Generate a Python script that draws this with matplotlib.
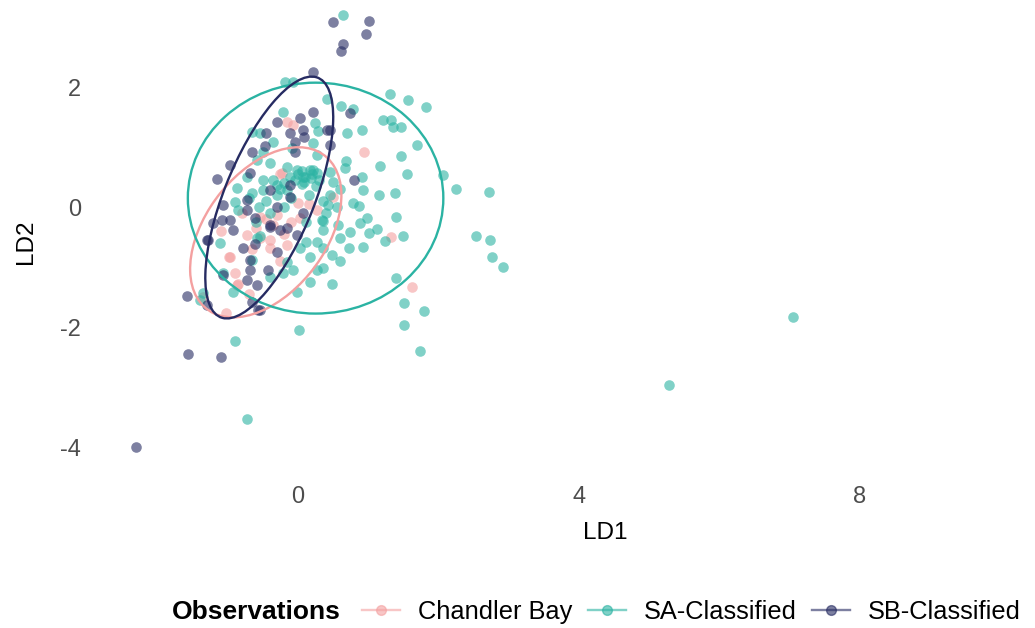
import matplotlib.pyplot as plt
from matplotlib.patches import Ellipse
from matplotlib.lines import Line2D

plt.rcParams['font.family'] = ['Liberation Sans', 'DejaVu Sans']
plt.rcParams['axes.unicode_minus'] = False

groups = ['Chandler Bay', 'SA-Classified', 'SB-Classified']
colors = {'Chandler Bay': '#F4A0A0', 'SA-Classified': '#2BB3A3', 'SB-Classified': '#262B62'}

# LD1 / LD2 scores
cb_x = [0.94, 1.32, 1.62, -0.07, -0.26, -0.16, -0.80, -0.73, -0.54, -0.40, -0.97, -0.30,
        -0.16, -0.90, -0.85, -1.35, -1.02, -0.54, 0.03, -0.40, 0.00, 0.50, 0.27, -0.23,
        -0.98, -0.87, -0.35, -0.20, -0.60, -0.10, 0.15, -0.45, -0.65, -0.25, -1.10, -0.70]
cb_y = [0.92, -0.49, -1.33, 1.37, 0.55, 1.42, -0.10, -0.47, -0.52, -0.55, -0.83, -0.13,
        -0.63, -1.10, -1.28, -1.50, -1.77, -0.16, -0.18, -0.68, 0.07, 0.17, -0.05, 0.57,
        -0.83, -1.30, -0.30, -0.45, -0.35, -0.25, 0.05, -0.20, -0.70, -0.90, -0.40, -1.45]

sa_x = [0.64, 7.05, 5.28, -0.73, -0.90, 0.01, 1.74, 2.07, 2.25, 2.72, 2.54, 2.74, 2.77, 2.92,
        1.31, 1.57, 1.82, 1.21, 1.33, 1.35, 1.47, 1.70, 1.46, 1.17, 1.55, 0.91, 0.70, 0.61,
        0.41, 0.78, 0.91, 0.93, 1.15, 1.38, 0.69, 0.67, 0.46, 0.50,
        1.40, 1.49, 1.24, 1.12, 0.98, 0.88, 1.01, 0.93, 0.74, 0.73, 0.60, 0.57, 0.48, 0.60,
        0.36, 0.35, 0.48, 1.40, 1.51, 1.79, 1.51, 0.87, 0.78, 0.43,
        -0.19, -0.07, -0.21, 0.24, 0.28, -0.66, -0.54, -0.36, 0.21, -0.09, -0.50, 0.27, -0.40,
        -0.16, -0.02, 0.17, 0.07, 0.27, -0.59, -0.73, -0.87, -0.50, -0.30, -0.16, -0.50, -0.66,
        -1.11, -0.66, -0.54, -0.90, -0.16, -0.07, 0.12, 0.27, 0.03, 0.17, 0.36, 0.27, -0.02,
        0.17, -1.07, -1.35, -0.93, -0.40, -0.21, 0.36, 0.34, 0.12, -0.59,
        0.00, 0.10, 0.20, 0.30, 0.05, 0.25, -0.20, -0.30, -0.45, -0.55, -0.40, -0.20, -0.10,
        0.15, 0.35, 0.45, 0.60, 0.55, 0.40, -0.70, -0.85, -0.60, -1.40,
        -0.05, 0.08, 0.18, -0.25, -0.35, 0.05, 0.22, -0.12]
sa_y = [3.20, -1.83, -2.97, -3.53, -2.23, -2.05, -2.40, 0.53, 0.30, 0.25, -0.48, -0.55, -0.83, -1.00,
        1.88, 1.79, 1.67, 1.45, 1.45, 1.34, 1.33, 1.03, 0.86, 0.68, 0.55, 1.28, 1.23, 1.68,
        1.80, 1.63, 0.51, 0.28, 0.20, 0.23, 0.77, 0.65, 0.59, 0.42,
        -0.16, -0.48, -0.57, -0.37, -0.18, -0.27, -0.43, -0.66, -0.42, -0.68, -0.52, -0.30, -0.80, -0.90,
        -0.23, -1.02, -1.28, -1.18, -1.60, -1.73, -1.97, 0.02, 0.07, 0.03,
        2.09, 2.08, 1.59, 1.40, 1.27, 1.26, 1.24, 1.09, 1.07, 0.98, 0.92, 0.87, 0.73,
        0.67, 0.62, 0.62, 0.51, 0.57, 0.78, 0.51, 0.32, 0.45, 0.37, 0.28, 0.28, 0.23,
        -0.60, -0.88, -0.48, 0.09, -0.91, -1.05, -0.58, -0.58, -0.68, -0.83, -0.68, -1.05, -1.41,
        -1.25, -1.10, -1.43, -1.41, -1.16, -1.10, -0.38, -0.22, -0.24, -0.52,
        0.55, 0.50, 0.55, 0.45, 0.38, 0.35, 0.40, 0.20, 0.10, 0.00, -0.10, 0.00, 0.15,
        0.20, 0.10, 0.20, 0.30, 0.00, -0.10, 0.15, -0.05, -0.25, -1.55,
        0.45, 0.42, 0.48, 0.30, 0.45, 0.60, 0.62, 0.50]

sb_x = [-2.31, -1.57, -1.10, -1.58, 0.50, 1.01, 0.64, 0.61, 0.97, 0.21,
        0.74, 0.46, 0.46, 0.80,
        0.21, 0.03, -0.30, 0.07, -0.11, 0.09, -0.04, 0.41, -0.45, -0.66, -0.97, -1.16, -0.47,
        -0.04, -0.11, -0.68,
        -1.07, -1.21, -0.97, -0.93, -1.30, -0.78, -0.61, -0.40, -0.26, -0.61, -0.73, -0.30,
        -0.68, -1.07, -0.73, -0.59, -0.43, -1.30, -0.66, -0.57, -0.16, -0.02,
        -1.28, -0.68, -0.40, -0.30, -0.54, 0.07, -0.11, -0.40, -0.73, -1.09]
sb_y = [-4.00, -2.45, -2.50, -1.48, 3.08, 3.10, 2.72, 2.60, 2.88, 2.25,
        1.57, 1.28, 1.03, 0.45,
        1.59, 1.48, 1.42, 1.28, 1.23, 1.17, 1.09, 1.28, 1.23, 0.92, 0.70, 0.47, 1.02,
        0.92, 0.37, 0.57,
        0.03, -0.27, -0.22, -0.38, -0.55, -0.68, -0.62, -0.33, -0.38, -0.18, -0.05, -0.75,
        -0.88, -1.13, -1.22, -1.30, -1.05, -1.63, -1.58, -1.72, -0.35, -0.47,
        -0.55, -1.05, -0.30, 0.00, -1.72, -0.10, 0.17, 0.28, 0.12, -0.22]

# 95% ellipse of each group: centre, full width/height along its axes, tilt (deg)
ell_cx = [-0.46, 0.25, -0.41]
ell_cy = [-0.42, 0.15, 0.16]
ell_w = [3.08, 3.64, 4.23]
ell_h = [1.79, 3.85, 1.30]
ell_ang = [61.4, 0.0, 71.5]

fig = plt.figure(figsize=(10.35, 6.28), dpi=100)
ax = fig.add_axes([98 / 1035, 1 - 480 / 628, 930 / 1035, 475 / 628])

pts = {'Chandler Bay': (cb_x, cb_y), 'SA-Classified': (sa_x, sa_y), 'SB-Classified': (sb_x, sb_y)}
for g in groups:
    x, y = pts[g]
    ax.scatter(x, y, s=58, color=colors[g], alpha=0.6, linewidths=0, zorder=2)

for i, g in enumerate(groups):
    e = Ellipse((ell_cx[i], ell_cy[i]), ell_w[i], ell_h[i], angle=ell_ang[i],
                fill=False, edgecolor=colors[g], lw=1.7, zorder=3)
    ax.add_patch(e)

ax.set_xlim(-2.85, 10.4)
ax.set_ylim(-4.55, 3.37)
ax.set_xticks([0, 4, 8])
ax.set_yticks([-4, -2, 0, 2])
ax.tick_params(length=0, labelsize=17, labelcolor='#4D4D4D')
ax.tick_params(axis='y', pad=12)
ax.tick_params(axis='x', pad=4)
for s in ax.spines.values():
    s.set_visible(False)

fig.text(605 / 1035, 1 - 533 / 628, 'LD1', ha='center', va='center', fontsize=17.5)
fig.text(26 / 1035, 1 - 242 / 628, 'LD2', ha='center', va='center', fontsize=17.5, rotation=90)

fig.text(172 / 1035, 1 - 612 / 628, 'Observations', ha='left', va='center',
         fontsize=19, fontweight='bold')
handles = [Line2D([], [], color=colors[g], marker='o', markersize=7, lw=1.7, alpha=0.6)
           for g in groups]
fig.legend(handles, groups, loc='center left', bbox_to_anchor=(362 / 1035, 1 - 612 / 628),
           ncol=3, frameon=False, fontsize=18.3, handlelength=1.5, handletextpad=0.7,
           columnspacing=0.6, borderpad=0, borderaxespad=0)

fig.savefig('out.png', dpi=100)
